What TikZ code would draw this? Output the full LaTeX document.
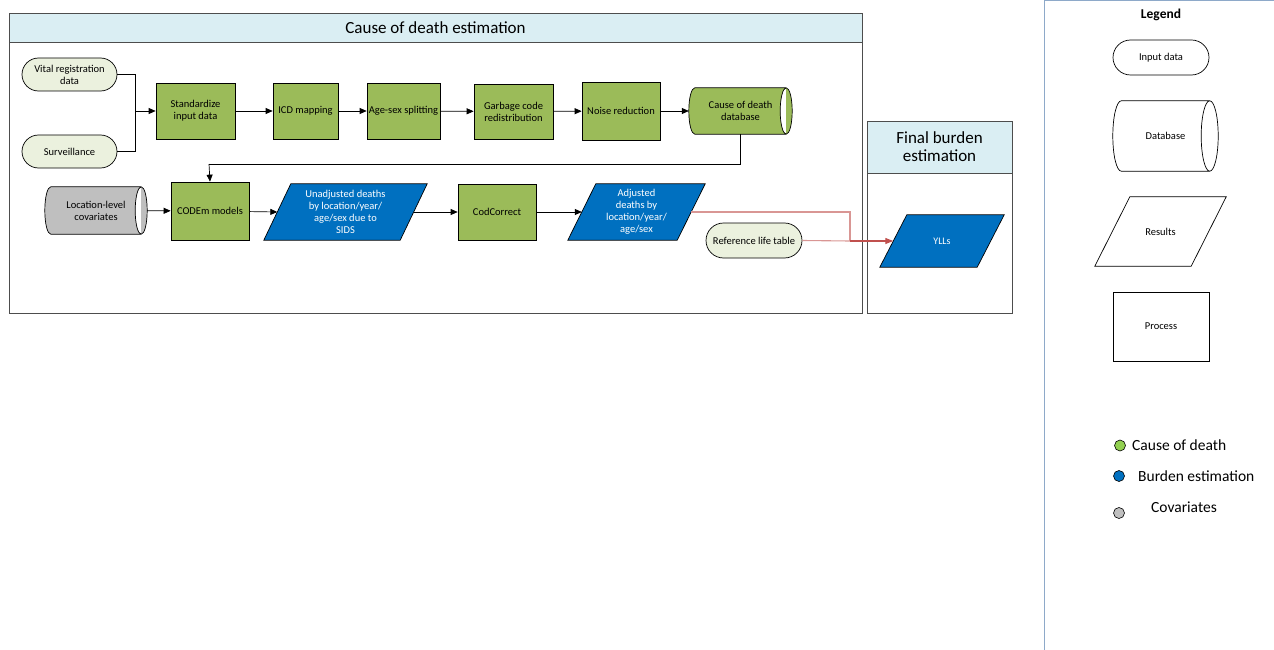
\documentclass[tikz,border=0pt]{standalone}
\usepackage{fontspec}
\setmainfont{Carlito}
\usetikzlibrary{shapes.misc,arrows.meta,calc,backgrounds}
\definecolor{procg}{HTML}{9BBB59}
\definecolor{inpg}{HTML}{EBF1DE}
\definecolor{resb}{HTML}{0070C0}
\definecolor{covg}{HTML}{BFBFBF}
\definecolor{headb}{HTML}{DAEEF3}
\definecolor{frameg}{HTML}{4D4D4D}
\definecolor{legline}{HTML}{8EA9C9}
\definecolor{lred}{HTML}{D99694}
\definecolor{dred}{HTML}{C0504D}
\definecolor{dotg}{HTML}{92D050}
\newcommand\fsmall{\fontsize{10.5}{12}\selectfont}
\newcommand\fleg{\fontsize{10.5}{12}\selectfont}
\newcommand\parashape[3]{%
  \path[draw=black, line width=0.7pt, fill=#3] (#1.south west) -- ([xshift=#2]#1.north west) -- (#1.north east) -- ([xshift=-#2]#1.south east) -- cycle;}
\newcommand\dbshape[3]{%
  \path[draw=black, line width=0.7pt, fill=#3] let \p1=(#1.north), \p2=(#1.south), \n1={(\y1-\y2)/2} in
   ([xshift=#2]#1.north west) -- ([xshift=-#2]#1.north east)
   arc[start angle=90, end angle=-90, x radius=#2pt, y radius=\n1]
   -- ([xshift=#2]#1.south west)
   arc[start angle=270, end angle=90, x radius=#2pt, y radius=\n1] -- cycle
   ([xshift=-#2]#1.north east) arc[start angle=90, end angle=270, x radius=#2pt, y radius=\n1];}
\tikzset{
  x=1pt,y=1pt,
  every node/.style={font=\fsmall, inner sep=0pt, align=center},
  inputbox/.style={rounded rectangle, draw=black, fill=inpg, line width=0.7pt, minimum width=95, minimum height=33},
  procbox/.style={rectangle, draw=black, fill=procg, line width=0.7pt, minimum width=78, minimum height=56},
  shapetext/.style={rectangle, minimum width=#1},
  arr/.style={-{Triangle[length=7pt,width=6pt]}, draw=black, line width=0.7pt},
  ln/.style={draw=black, line width=0.7pt},
  framebox/.style={draw=frameg, line width=0.9pt},
  dot/.style={circle, draw=black, line width=0.6pt, minimum size=11},
  legtxt/.style={anchor=west, font=\fontsize{15.5}{18}\selectfont},
}
\begin{document}
\begin{tikzpicture}
\useasboundingbox (0,0) rectangle (1274,-650);
% frames
\draw[framebox] (9,-13) rectangle (862,-313);
\draw[framebox, fill=headb] (9,-13) rectangle (862,-42);
\node[font=\fontsize{17}{19}\selectfont] (t1) at (435.5,-28) {Cause of death estimation};
\draw[framebox] (867,-121) rectangle (1012,-313);
\draw[framebox, fill=headb] (867,-121) rectangle (1012,-173);
\node[font=\fontsize{17}{18.3}\selectfont] (t2) at (939.5,-147) {Final burden\\estimation};
% legend
\draw[legline, line width=1pt] (1274,-0.5) -- (1044.5,-0.5) -- (1044.5,-650);
\node[font=\bfseries\fontsize{13.5}{15}\selectfont] (lgt) at (1161,-15) {Legend};
\node[rounded rectangle, draw=black, line width=0.7pt, fill=white, font=\fleg, minimum width=96, minimum height=35] (lin) at (1161,-57.5) {Input data};
\node[shapetext=105, minimum height=70, font=\fleg] (ldb) at (1165.5,-136) {Database};
\node[shapetext=131, minimum height=69, font=\fleg] (lres) at (1160.5,-231.5) {Results};
\node[rectangle, draw=black, line width=0.7pt, fill=white, font=\fleg, minimum width=96, minimum height=69] (lproc) at (1161,-326.5) {Process};
\node[dot, fill=dotg] (d1) at (1120,-445.5) {};
\node[dot, fill=resb] (d2) at (1119,-476) {};
\node[dot, fill=covg] (d3) at (1119,-513) {};
\node[legtxt] (l1) at (1132,-445) {Cause of death};
\node[legtxt] (l2) at (1138,-476) {Burden estimation};
\node[legtxt] (l3) at (1151,-507) {Covariates};
% top row
\node[inputbox] (vr) at (69.5,-74.5) {Vital registration\\data};
\node[inputbox] (sv) at (69.5,-151.5) {Surveillance};
\coordinate (j) at (135,-111);
\node[procbox, minimum width=79] (std) at (195.5,-111) {Standardize\\input data};
\node[procbox, minimum width=65] (icd) at (305.5,-111) {ICD mapping};
\node[procbox, minimum width=73] (age) at (403.5,-111) {Age-sex splitting};
\node[procbox, minimum width=79, minimum height=55] (gc) at (513.5,-111.5) {Garbage code\\redistribution};
\node[procbox, minimum width=78, minimum height=58] (nr) at (621,-111) {Noise reduction};
\node[shapetext=103, minimum height=46] (cdb) at (740.5,-111) {Cause of death\\database};
\coordinate (bend) at (209,-164);
% second row
\node[shapetext=102, minimum height=47] (cov) at (96,-210.5) {Location-level\\covariates};
\node[procbox, minimum height=58] (codem) at (210,-211) {CODEm models};
\node[shapetext=163, minimum height=56, text=white] (un) at (345.5,-212) {Unadjusted deaths\\by location/year/\\age/sex due to\\SIDS};
\node[procbox, minimum height=56] (cc) at (497,-212) {CodCorrect};
\node[shapetext=137, minimum height=56, text=white] (adj) at (636.5,-212) {Adjusted\\deaths by\\location/year/\\age/sex};
\node[inputbox, minimum width=96, minimum height=35] (rlt) at (754,-240.5) {Reference life table};
\node[shapetext=124, minimum height=52, text=white, font=\fontsize{10}{12}\selectfont] (yll) at (942,-241) {YLLs};
\coordinate (m) at (850,-241);
% shapes behind text
\begin{scope}[on background layer]
  \dbshape{cdb}{6}{procg}
  \dbshape{cov}{6}{covg}
  \dbshape{ldb}{8.5}{white}
  \parashape{un}{27}{resb}
  \parashape{adj}{28}{resb}
  \parashape{yll}{27}{resb}
  \parashape{lres}{35}{white}
\end{scope}
% connectors
\draw[ln] (vr.east) -| (j);
\draw[ln] (sv.east) -| (j);
\draw[arr] (j) -- (std.west);
\draw[arr] (std) -- (icd);
\draw[arr] (icd) -- (age);
\draw[arr] (age) -- (gc);
\draw[arr] (gc) -- (nr);
\draw[arr] (nr) -- (cdb);
\draw[ln] (cdb.south) |- (bend);
\draw[arr] (bend) -- (codem.north);
\draw[arr] (cov) -- (codem);
\draw[arr] (codem) -- ([xshift=13.5]un.west);
\draw[arr] ([xshift=-13.5]un.east) -- (cc);
\draw[arr] (cc) -- ([xshift=14]adj.west);
\draw[draw=lred, line width=1.1pt] ([xshift=-14]adj.east) -| (m);
\draw[draw=lred, line width=1.1pt] (rlt.east) -- (m);
\draw[-{Triangle[length=8pt,width=6pt]}, draw=dred, fill=dred, line width=1.2pt] (m) -- ([xshift=13.5]yll.west);
\end{tikzpicture}
\end{document}
